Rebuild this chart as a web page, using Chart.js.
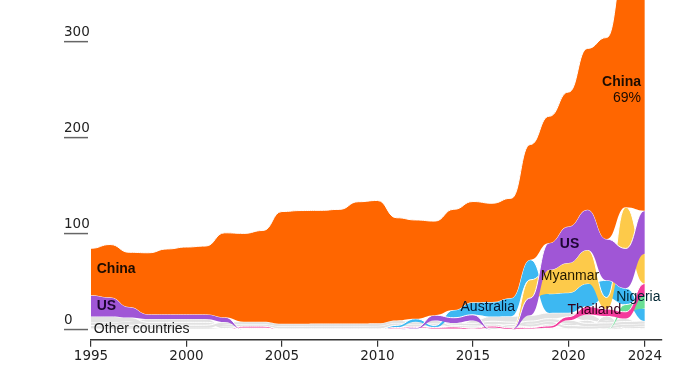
<!DOCTYPE html>
<html>
<head>
<meta charset="utf-8">
<script src="https://cdn.jsdelivr.net/npm/chart.js@4.4.1/dist/chart.umd.min.js"></script>
<style>
  html, body { margin: 0; padding: 0; background: #fff; }
  #wrap { width: 700px; height: 370px; position: relative; }
</style>
</head>
<body>
<div id="wrap"><canvas id="myChart"></canvas></div>
<script>
// rare earth mine production, thousand tons
const years = [1995, 1996, 1997, 1998, 1999, 2000, 2001, 2002, 2003, 2004, 2005, 2006, 2007, 2008, 2009,
               2010, 2011, 2012, 2013, 2014, 2015, 2016, 2017, 2018, 2019, 2020, 2021, 2022, 2023, 2024];

const china     = [49, 55, 57, 64, 68, 70, 71, 88, 92, 95, 117, 118, 118, 119, 127, 128, 107, 103, 98, 105, 105, 103, 104, 120, 132, 140, 168, 210, 255, 270];
const us        = [22, 20, 11, 5, 5, 5, 5, 5, 0, 0, 0, 0, 0, 0, 0, 0, 0, 0.8, 5.5, 5.4, 5.9, 0, 0, 18, 28, 38, 42, 43, 41.5, 45];
const myanmar   = [0, 0, 0, 0, 0, 0, 0, 0, 0, 0, 0, 0, 0, 0, 0, 0, 0, 0, 0, 0, 0, 0, 0, 19, 25, 31, 35, 12, 43, 31];
const australia = [0, 0, 0, 0, 0, 0, 0, 0, 0, 0, 0, 0, 0, 0, 0, 0, 2.2, 3.2, 2, 8, 13, 15, 19, 21, 20, 21, 24, 18, 17, 13];
const thailand  = [0, 0, 0, 0, 0, 0, 0, 0, 1.5, 1.5, 0, 0, 0, 0, 0, 0, 0.8, 1, 1, 1.5, 0.8, 1.6, 1.3, 1, 1.9, 3.6, 8.2, 7.1, 7.1, 13];
const nigeria   = [0, 0, 0, 0, 0, 0, 0, 0, 0, 0, 0, 0, 0, 0, 0, 0, 0, 0, 0, 0, 0, 0, 0, 0, 0, 0, 0, 0.2, 7.5, 13];
const india     = [2.7, 2.7, 2.7, 2.7, 2.7, 2.7, 2.7, 2.7, 2.7, 2.7, 2.7, 2.7, 2.7, 2.7, 2.7, 2.7, 2.7, 2.7, 2.9, 1.7, 1.5, 1.5, 1.8, 2.9, 2.9, 2.9, 2.9, 2.9, 2.9, 2.9];
const russia    = [6, 6, 4, 3, 3, 3, 3, 2, 2, 2, 2, 2, 2, 2, 2, 2.5, 2.5, 2.4, 2.4, 2.5, 2.8, 2.8, 2.6, 2.7, 2.7, 2.7, 2.6, 2.6, 2.6, 2.5];
const brazil    = [1, 1.4, 1.4, 1.4, 1.4, 1.4, 1.4, 0.7, 0.7, 0.7, 0.5, 0.5, 0.6, 0.6, 0.6, 0.5, 0.3, 0.3, 0.3, 0.3, 0.9, 2.2, 1.7, 1.1, 0.7, 0.6, 0.5, 0.1, 0.1, 0.1];
const malaysia  = [0.5, 0.5, 0.4, 0.4, 0.4, 0.4, 0.4, 0.4, 0.3, 0.3, 0.3, 0.3, 0.4, 0.4, 0.4, 0.3, 0.3, 0.1, 0.2, 0.2, 0.2, 0.3, 0.2, 0.2, 0.2, 0.1, 0.1, 0.1, 0.1, 0.1];
const vietnam   = [0, 0, 0, 0, 0, 0, 0, 0, 0, 0, 0, 0, 0, 0, 0, 0, 0.2, 0.2, 0.2, 0.2, 0.3, 0.2, 0.2, 0.9, 0.9, 0.7, 0.4, 4.3, 0.6, 0.3];
const madagascar = [0, 0, 0, 0, 0, 0, 0, 0, 0, 0, 0, 0, 0, 0, 0, 0, 0, 0, 0, 0, 0, 0, 0, 0, 2, 2.8, 3.2, 1, 2.1, 2];
const others    = [3.5, 3, 4, 3.5, 3.5, 3.5, 3.5, 2, 1, 1, 0.5, 0.5, 0.5, 0.5, 0.5, 0.5, 0.5, 0.5, 0.5, 0.5, 3, 5, 6, 6, 6, 4, 6, 3, 3, 1];

const xTicks = [1995, 2000, 2005, 2010, 2015, 2020, 2024];
const yTicks = [0, 100, 200, 300];

const FONT = '"Liberation Sans", Arial, Helvetica, sans-serif';
const NUM_FONT = '"DejaVu Sans", Arial, sans-serif';
const GRAY = '#e2e2e2';

// first in the list is drawn on top
const layers = [
  { values: china, color: '#ff6600' },
  { values: us, color: '#a056d6' },
  { values: myanmar, color: '#fdca4a' },
  { values: thailand, color: '#f43a9c' },
  { values: nigeria, color: '#68df94' },
  { values: australia, color: '#3db8f2' },
  { values: india, color: GRAY },
  { values: russia, color: GRAY },
  { values: brazil, color: GRAY },
  { values: malaysia, color: GRAY },
  { values: vietnam, color: GRAY },
  { values: madagascar, color: GRAY },
  { values: others, color: GRAY }
];

// ranked stack: each year the biggest producer sits on top
const bands = layers.map(() => ({ lo: [], hi: [] }));
years.forEach((yr, i) => {
  const order = layers.map((l, k) => k)
    .sort((a, b) => (layers[a].values[i] - layers[b].values[i]) || (b - a));
  let base = 0;
  order.forEach(k => {
    bands[k].lo.push({ x: yr, y: base });
    base += layers[k].values[i];
    bands[k].hi.push({ x: yr, y: base });
  });
});

const datasets = [];
layers.forEach((l, k) => {
  datasets.push({
    data: bands[k].lo, borderWidth: 0, pointRadius: 0, fill: false, tension: 0.4
  });
  datasets.push({
    data: bands[k].hi, borderWidth: 1, borderColor: '#ffffff', backgroundColor: l.color,
    pointRadius: 0, fill: '-1', tension: 0.4
  });
});

const notes = [
  { text: 'China', x: 1995.3, y: 63, bold: true, align: 'left', color: '#1d0c00' },
  { text: 'US', x: 1995.3, y: 24.5, bold: true, align: 'left', color: '#1e0633' },
  { text: 'Other countries', x: 1995.15, y: 0.3, bold: false, align: 'left', color: '#1a1a1a' },
  { text: 'China', x: 2023.8, y: 258, bold: true, align: 'right', color: '#1d0c00' },
  { text: '69%', x: 2023.8, y: 241.5, bold: false, align: 'right', color: '#1d0c00' },
  { text: 'US', x: 2019.55, y: 89.5, bold: true, align: 'left', color: '#1e0633' },
  { text: 'Myanmar', x: 2018.55, y: 55.5, bold: false, align: 'left', color: '#221900' },
  { text: 'Australia', x: 2014.35, y: 23.5, bold: false, align: 'left', color: '#061a33' },
  { text: 'Thailand', x: 2019.95, y: 19.7, bold: false, align: 'left', color: '#33001a' },
  { text: 'Nigeria', x: 2022.5, y: 34, bold: false, align: 'left', color: '#002633' }
];

// horizontal tangent at every year, like a bump curve
const bumpCurve = {
  id: 'bumpCurve',
  beforeDatasetsDraw(chart) {
    chart.getSortedVisibleDatasetMetas().forEach(meta => {
      meta.dataset.updateControlPoints(chart.chartArea, 'x');
      const pts = meta.data;
      pts.forEach((p, i) => {
        const prev = pts[i - 1], next = pts[i + 1];
        p.cp1x = prev ? (prev.x + p.x) / 2 : p.x;
        p.cp1y = p.y;
        p.cp2x = next ? (p.x + next.x) / 2 : p.x;
        p.cp2y = p.y;
      });
    });
  }
};

const yAxisLabels = {
  id: 'yAxisLabels',
  afterDraw(chart) {
    const { ctx } = chart;
    const y = chart.scales.y;
    ctx.save();
    ctx.font = '13.5px ' + NUM_FONT;
    ctx.fillStyle = '#222';
    ctx.textAlign = 'left';
    ctx.textBaseline = 'alphabetic';
    ctx.strokeStyle = '#666';
    ctx.lineWidth = 1.5;
    yTicks.forEach(v => {
      const py = y.getPixelForValue(v);
      ctx.fillText(String(v), 64, py - 5.5);
      ctx.beginPath();
      ctx.moveTo(64, py);
      ctx.lineTo(88, py);
      ctx.stroke();
    });
    ctx.restore();
  }
};

const areaLabels = {
  id: 'areaLabels',
  afterDatasetsDraw(chart) {
    const { ctx } = chart;
    const { x, y } = chart.scales;
    ctx.save();
    ctx.textBaseline = 'middle';
    notes.forEach(n => {
      ctx.font = (n.bold ? 'bold ' : '') + '14px ' + FONT;
      ctx.textAlign = n.align;
      ctx.fillStyle = n.color;
      ctx.fillText(n.text, x.getPixelForValue(n.x), y.getPixelForValue(n.y));
    });
    ctx.restore();
  }
};

const ctx = document.getElementById('myChart').getContext('2d');
const myChart = new Chart(ctx, {
  type: 'line',
  data: { datasets: datasets },
  options: {
    responsive: true,
    maintainAspectRatio: false,
    animation: false,
    layout: { padding: { left: 91, right: 38, top: 0, bottom: 3 } },
    plugins: {
      legend: { display: false },
      tooltip: { enabled: false },
      filler: { drawTime: 'beforeDatasetDraw' }
    },
    scales: {
      x: {
        type: 'linear',
        min: 1995,
        max: 2024.9,
        afterBuildTicks: scale => { scale.ticks = xTicks.map(v => ({ value: v })); },
        ticks: {
          color: '#222',
          font: { family: NUM_FONT, size: 13.5 },
          padding: 2,
          maxRotation: 0,
          callback: v => String(v)
        },
        grid: { drawOnChartArea: false, drawTicks: true, tickLength: 7, color: '#333', lineWidth: 1.2 },
        border: { display: true, color: '#333', width: 1.5 }
      },
      y: {
        display: false,
        min: -10.7,
        max: 343.4
      }
    }
  },
  plugins: [bumpCurve, yAxisLabels, areaLabels]
});
</script>
</body>
</html>
